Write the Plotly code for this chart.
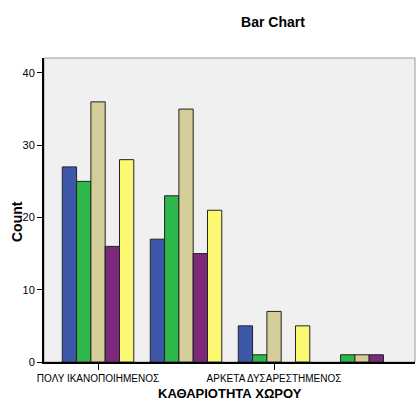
import plotly.graph_objects as go

categories = ["ΠΟΛΥ ΙΚΑΝΟΠΟΙΗΜΕΝΟΣ", "ΙΚΑΝΟΠΟΙΗΜΕΝΟΣ", "ΑΡΚΕΤΑ ΔΥΣΑΡΕΣΤΗΜΕΝΟΣ", "ΠΟΛΥ ΔΥΣΑΡΕΣΤΗΜΕΝΟΣ"]
tick_labels = ["ΠΟΛΥ ΙΚΑΝΟΠΟΙΗΜΕΝΟΣ", "ΑΡΚΕΤΑ ΔΥΣΑΡΕΣΤΗΜΕΝΟΣ"]
series_names = ["Ομάδα 1", "Ομάδα 2", "Ομάδα 3", "Ομάδα 4", "Ομάδα 5"]
series_1 = [27, 17, 5, 0]
series_2 = [25, 23, 1, 1]
series_3 = [36, 35, 7, 1]
series_4 = [16, 15, 0, 1]
series_5 = [28, 21, 5, 0]
colors = ["#3D58A8", "#2DB84B", "#D3CE97", "#7D2A7D", "#FBF871"]

fig = go.Figure()
for name, vals, col in zip(series_names, [series_1, series_2, series_3, series_4, series_5], colors):
    fig.add_trace(go.Bar(
        x=categories, y=[v if v else None for v in vals], name=name,
        marker=dict(color=col, line=dict(color="#222222", width=1)),
    ))

fig.update_layout(
    width=416, height=401,
    margin=dict(l=44, r=1, t=58, b=39, autoexpand=False),
    paper_bgcolor="white",
    plot_bgcolor="#F0F0F0",
    barmode="group",
    bargap=0.1875,
    bargroupgap=0,
    showlegend=False,
    font=dict(family="Liberation Sans, Arial, sans-serif", color="black"),
    title=dict(text="<b>Bar Chart</b>", x=273/416, xanchor="center", y=1-22/401, yanchor="middle",
               font=dict(size=14)),
    shapes=[dict(type="rect", xref="paper", yref="paper", x0=0, x1=1, y0=0, y1=1,
                 line=dict(color="#999999", width=1), layer="below")],
    annotations=[
        dict(text="<b>ΚΑΘΑΡΙΟΤΗΤΑ ΧΩΡΟΥ</b>", xref="paper", yref="paper",
             x=0.5, y=-(394-362)/304, xanchor="center", yanchor="middle",
             showarrow=False, font=dict(size=13)),
        dict(text="<b>Count</b>", xref="paper", yref="paper",
             x=-(44-17)/371, y=(362-221)/304, xanchor="center", yanchor="middle",
             textangle=-90, showarrow=False, font=dict(size=14)),
    ],
)
fig.update_xaxes(
    automargin=False,
    range=[-0.614, 3.602],
    tickmode="array", tickvals=[categories[0], categories[2]], ticktext=tick_labels,
    ticks="outside", ticklen=6, tickcolor="black", tickwidth=1,
    tickfont=dict(size=10),
    showline=True, linecolor="black", linewidth=2,
    showgrid=False, zeroline=False,
)
fig.update_yaxes(
    automargin=False,
    range=[0, 42.07],
    tickvals=[0, 10, 20, 30, 40],
    ticks="outside", ticklen=5, tickcolor="black", tickwidth=1,
    tickfont=dict(size=11),
    showline=True, linecolor="black", linewidth=2,
    showgrid=False, zeroline=False,
)

fig.write_html("out.html", config={"displayModeBar": False},
               post_script="document.body.style.margin='0';document.body.style.overflow='hidden';")
